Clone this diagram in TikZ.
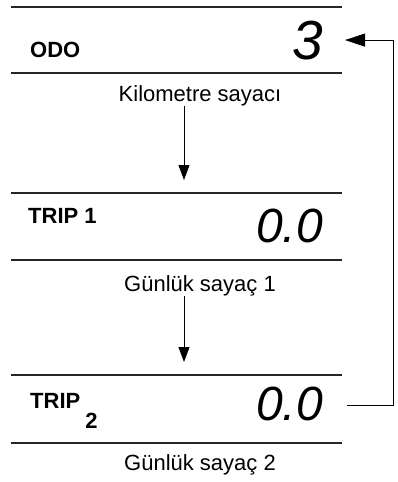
\documentclass[tikz,border=0pt]{standalone}
\usepackage{fontspec}
\setmainfont{Liberation Sans}
\usetikzlibrary{arrows.meta}

\begin{document}
\begin{tikzpicture}[x=1pt,y=-1pt,
  bar/.style={line width=2.6pt,black!85},
  lcd/.style={font=\fontsize{48}{48}\selectfont\itshape,anchor=base east,inner sep=0pt},
  tag/.style={font=\fontsize{22}{22}\selectfont\bfseries,anchor=base west,inner sep=0pt},
  lbl/.style={font=\fontsize{22}{22}\selectfont,anchor=base,inner sep=0pt},
  arr/.style={line width=0.8pt,-{Triangle[length=15pt,width=11pt]}}]
  \useasboundingbox (0,0) rectangle (397,482);

  %% ODO
  \draw[bar] (11,7) -- (342,7);
  \draw[bar] (11,73) -- (342,73);
  \node[tag] (odo) at (30,57) {ODO};
  \node[lcd,font=\fontsize{55}{55}\selectfont\itshape] (odoval) at (323,59) {3};
  \node[lbl] (odolbl) at (200,101) {Kilometre sayacı};

  %% TRIP 1
  \draw[bar] (11,193) -- (342,193);
  \draw[bar] (11,260) -- (342,260);
  \node[tag] (trip1) at (28,223) {TRIP 1};
  \node[lcd] (trip1val) at (323,242) {0.0};
  \node[lbl] (trip1lbl) at (200,291) {Günlük sayaç 1};

  %% TRIP 2
  \draw[bar] (11,375) -- (342,375);
  \draw[bar] (11,443) -- (342,443);
  \node[tag] (trip2) at (30,408) {TRIP\hspace{5pt}\raisebox{-20pt}{2}};
  \node[lcd] (trip2val) at (323,420) {0.0};
  \node[lbl] (trip2lbl) at (200,470) {Günlük sayaç 2};

  \coordinate (trip1in) at (184,180);
  \coordinate (trip2in) at (184,362);
  \coordinate (back) at (393,405);
  \draw[arr] (odolbl.south -| trip1in) -- (trip1in);
  \draw[arr] (trip1lbl.south -| trip2in) -- (trip2in);
  \draw[line width=0.8pt,-{Triangle[length=20pt,width=13pt]}]
    (trip2val.east |- back) ++(24,0) -- (back) |- ([xshift=22pt]odoval.east);

\end{tikzpicture}
\end{document}
